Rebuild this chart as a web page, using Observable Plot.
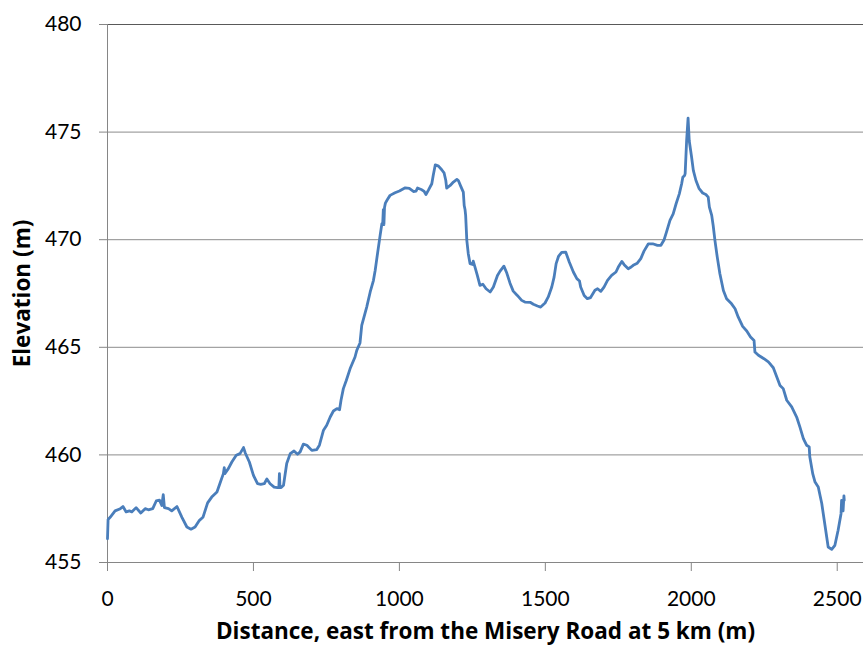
<!DOCTYPE html>
<html>
<head>
<meta charset="utf-8">
<script src="https://cdn.jsdelivr.net/npm/d3@7"></script>
<script src="https://cdn.jsdelivr.net/npm/@observablehq/plot@0.6"></script>
<style>
  html, body { margin: 0; padding: 0; background: #fff; }
</style>
</head>
<body>
<div id="chart"></div>
<script>
const distance = [0,2,9,26,44,53,64,75,83,98,114,129,140,155,167,178,186,191,195,209,220,238,255,272,286,300,315,327,343,357,375,389,397,400,402,414,426,441,454,466,472,486,500,514,525,537,546,557,571,582,587,589,591,595,603,614,626,639,651,660,671,683,700,717,726,740,751,763,774,786,795,800,808,818,831,848,854,865,871,888,900,911,917,925,934,940,943,945,947,949,952,959,968,985,1000,1020,1034,1048,1057,1062,1077,1085,1091,1099,1111,1116,1123,1134,1145,1153,1159,1162,1174,1185,1197,1202,1210,1219,1222,1225,1227,1231,1236,1242,1251,1253,1259,1267,1276,1286,1297,1311,1322,1336,1345,1358,1368,1379,1390,1404,1419,1430,1448,1459,1473,1484,1499,1510,1522,1530,1537,1545,1556,1570,1582,1596,1608,1617,1621,1633,1644,1655,1670,1679,1690,1701,1713,1727,1742,1750,1762,1770,1784,1794,1801,1815,1827,1838,1853,1868,1884,1896,1907,1916,1927,1938,1948,1959,1967,1971,1977,1979,1984,1989,1993,2001,2007,2016,2027,2039,2050,2058,2062,2070,2075,2081,2089,2098,2110,2121,2138,2150,2161,2176,2190,2203,2215,2218,2230,2249,2264,2272,2281,2293,2304,2315,2327,2344,2361,2372,2384,2395,2404,2406,2416,2424,2435,2447,2458,2469,2481,2492,2503,2513,2515,2518,2520,2523,2524];
const elevation = [456.1,457.0,457.1,457.4,457.5,457.6,457.35,457.4,457.35,457.55,457.3,457.5,457.45,457.5,457.86,457.9,457.65,458.15,457.55,457.5,457.4,457.6,457.1,456.65,456.55,456.65,456.96,457.1,457.77,458.04,458.28,458.82,459.13,459.41,459.13,459.36,459.67,459.98,460.06,460.34,460.09,459.67,459.05,458.66,458.63,458.66,458.88,458.66,458.5,458.48,458.48,459.13,458.48,458.48,458.59,459.6,460.06,460.18,460.03,460.14,460.5,460.45,460.21,460.25,460.45,461.15,461.38,461.76,462.04,462.15,462.1,462.54,463.08,463.46,464.0,464.55,464.86,465.2,466.02,466.87,467.57,468.1,468.57,469.35,470.2,470.74,470.8,471.4,470.7,471.5,471.7,471.87,472.06,472.18,472.26,472.41,472.38,472.24,472.26,472.4,472.32,472.24,472.1,472.29,472.6,472.99,473.48,473.42,473.25,473.11,472.75,472.4,472.52,472.68,472.8,472.75,472.49,472.21,471.59,471.39,471.13,469.97,469.35,468.89,468.85,469.0,468.73,468.34,467.88,467.93,467.72,467.57,467.8,468.34,468.54,468.77,468.45,467.98,467.61,467.41,467.18,467.1,467.09,467.0,466.92,466.87,467.06,467.34,467.8,468.26,468.89,469.22,469.41,469.42,468.96,468.5,468.19,468.08,467.8,467.41,467.26,467.31,467.65,467.72,467.6,467.8,468.11,468.34,468.5,468.73,468.99,468.84,468.65,468.73,468.81,468.91,469.12,469.47,469.81,469.81,469.74,469.74,470.0,470.4,470.9,471.2,471.67,472.13,472.6,472.9,472.98,473.07,474.6,475.65,474.6,473.84,473.22,472.75,472.37,472.17,472.1,471.98,471.51,471.13,470.66,469.97,469.19,468.42,467.64,467.26,467.02,466.79,466.4,465.97,465.76,465.48,465.32,464.78,464.63,464.47,464.32,464.2,464.05,463.62,463.23,463.08,462.54,462.23,461.76,461.3,460.76,460.45,460.37,459.91,459.13,458.74,458.51,457.74,456.73,455.72,455.61,455.8,456.5,457.27,457.89,457.43,457.4,458.1,457.9];
const xTicks = [0, 500, 1000, 1500, 2000, 2500];
const yTicks = [455, 460, 465, 470, 475, 480];
const gridValues = [460, 465, 470, 475];
const xTitle = "Distance, east from the Misery Road at 5 km (m)";
const yTitle = "Elevation (m)";

const profile = distance.map((d, i) => ({distance: d, elevation: elevation[i]}));

const chart = Plot.plot({
  width: 864,
  height: 645,
  marginLeft: 107,
  marginRight: 1,
  marginTop: 24,
  marginBottom: 83,
  style: {fontFamily: "Lato, sans-serif", background: "#fff", color: "#000"},
  x: {domain: [0, 2590]},
  y: {domain: [455, 480]},
  marks: [
    Plot.ruleY(gridValues, {stroke: "#8c8c8c", strokeWidth: 1}),
    Plot.ruleY([480], {stroke: "#595959", strokeWidth: 1.2}),
    Plot.ruleY([455], {stroke: "#868686", strokeWidth: 1}),
    Plot.ruleX([0], {stroke: "#868686", strokeWidth: 1}),
    Plot.axisX(xTicks, {tickSize: 9, tickPadding: 20, stroke: "#868686", fill: "#000", fontSize: 21, label: null, tickFormat: d => String(d)}),
    Plot.axisY(yTicks, {tickSize: 8, tickPadding: 18, stroke: "#868686", fill: "#000", fontSize: 21, label: null, tickFormat: d => String(d)}),
    Plot.line(profile, {x: "distance", y: "elevation", stroke: "#4a7ebb", strokeWidth: 2.8, strokeLinejoin: "round", strokeLinecap: "round"}),
    Plot.text([xTitle], {frameAnchor: "bottom", dy: 69, text: d => d, fontSize: 22.5, fontWeight: "bold", fontFamily: "Open Sans, sans-serif", fill: "#000", textAnchor: "middle", lineAnchor: "middle"}),
    Plot.text([yTitle], {frameAnchor: "left", dx: -85, rotate: -90, text: d => d, fontSize: 22.5, fontWeight: "bold", fontFamily: "Open Sans, sans-serif", fill: "#000", textAnchor: "middle", lineAnchor: "middle"})
  ]
});
document.getElementById("chart").appendChild(chart);
</script>
</body>
</html>
